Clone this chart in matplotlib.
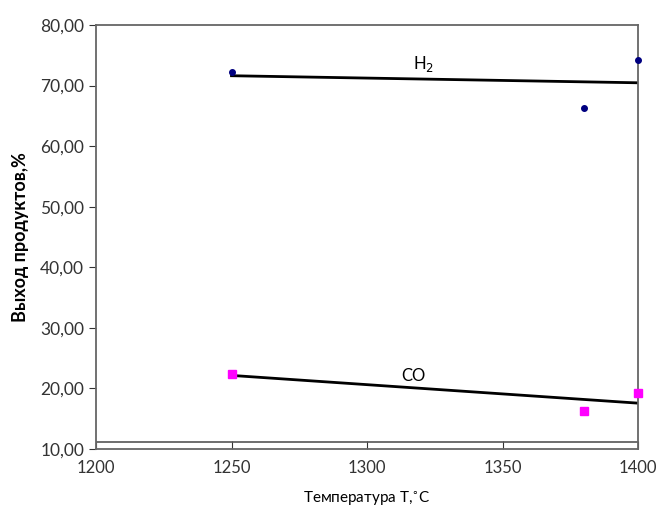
import numpy as np
import matplotlib
matplotlib.use('Agg')
from matplotlib import pyplot as plt
from matplotlib.ticker import FuncFormatter

temp = [1250, 1380, 1400]
h2 = [72.2, 66.3, 74.2]
co = [22.4, 16.3, 19.2]

plt.rcParams['font.family'] = ['Lato', 'DejaVu Sans']

fig = plt.figure(figsize=(6.56, 5.07), dpi=100)
ax = fig.add_axes([96/656, 1-449/507, 542/656, 424/507])

# linear trend lines
for y in (h2, co):
    k, b = np.polyfit(temp, y, 1)
    xx = np.array([1250, 1400])
    ax.plot(xx, k*xx + b, color='black', lw=2.0, zorder=2)

ax.plot(temp, h2, 'o', color='#000080', ms=4, zorder=3, clip_on=False)
ax.plot(temp, co, 's', color='#ff00ff', ms=6, zorder=3, clip_on=False)

ax.axhline(11.15, color='#555555', lw=1.2)

ax.text(1321, 73.5, 'H$_2$', fontsize=12, ha='center', va='center')
ax.text(1317, 22.0, 'CO', fontsize=12, ha='center', va='center')

ax.set_xlim(1200, 1400)
ax.set_ylim(10, 80)
ax.set_xticks(np.arange(1200, 1401, 50))
ax.set_yticks(np.arange(10, 81, 10))
ax.yaxis.set_major_formatter(FuncFormatter(lambda v, p: ('%.2f' % v).replace('.', ',')))
ax.tick_params(axis='y', direction='out', length=5, labelsize=12.5, colors='#333333')
ax.tick_params(axis='x', direction='in', length=6, labelsize=12, colors='#333333', pad=8)
for s in ax.spines.values():
    s.set_color('#666666')
    s.set_linewidth(1.3)

ax.set_ylabel('Выход продуктов,%', fontsize=13, fontweight='bold', labelpad=8)
ax.set_xlabel('Температура T,$^{\\circ}$C', fontsize=11, labelpad=10)

plt.savefig('out.png', dpi=100)
